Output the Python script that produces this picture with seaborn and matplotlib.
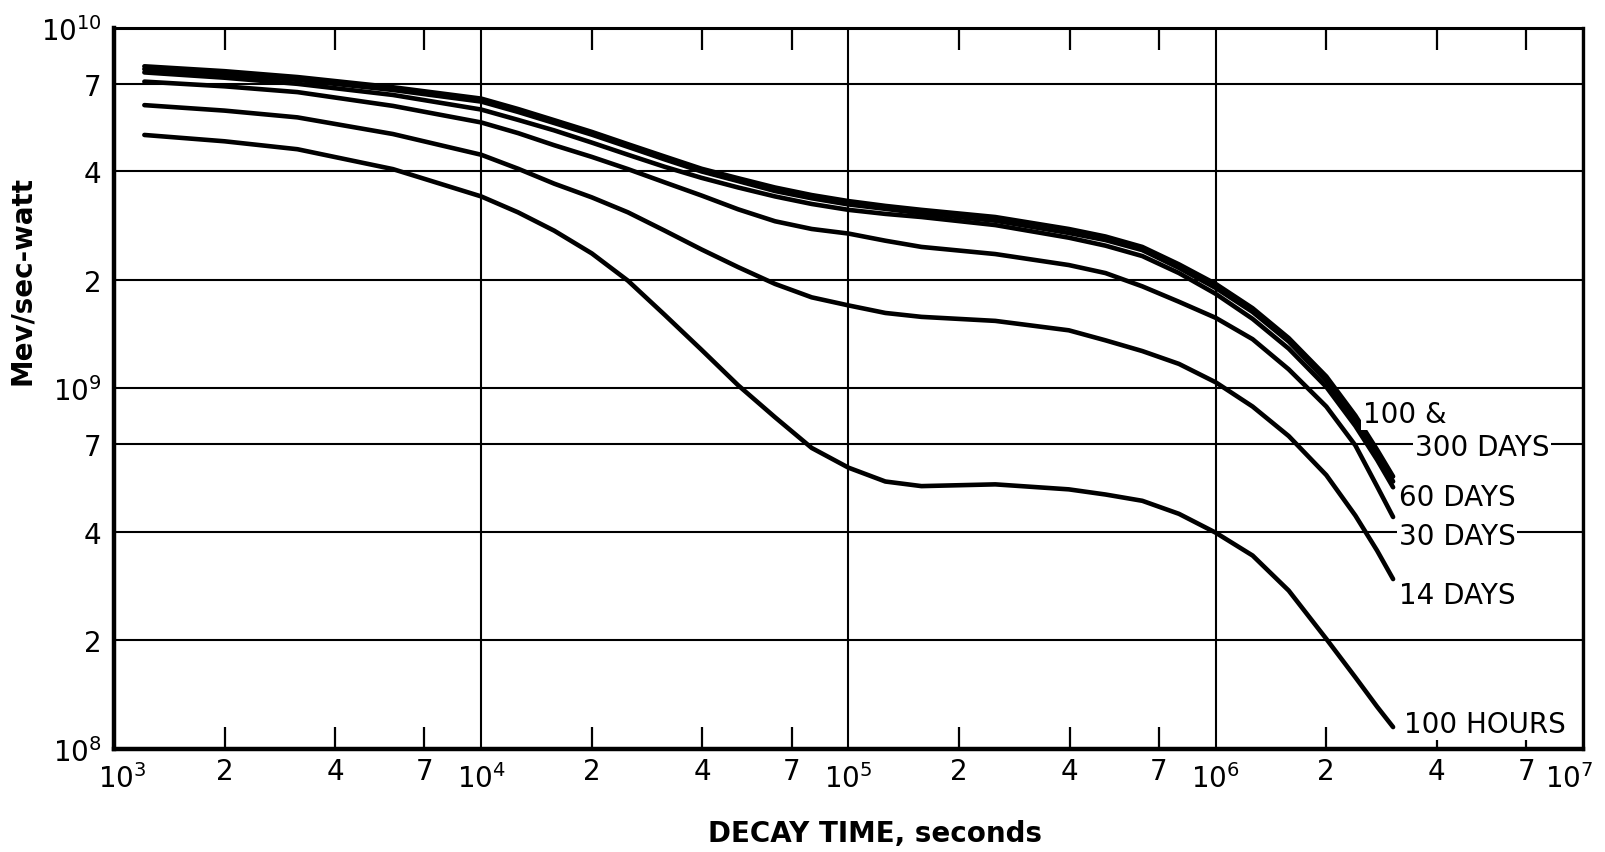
import numpy as np
import pandas as pd
import seaborn as sns
import matplotlib
matplotlib.use("Agg")
import matplotlib.pyplot as plt
from matplotlib.ticker import FixedLocator, FixedFormatter, NullLocator, NullFormatter

# ---------------- data ----------------
time_s = [1.21e3, 2.0e3, 3.16e3, 5.75e3, 1.0e4, 1.26e4, 1.58e4, 2.0e4, 2.51e4, 3.16e4,
          3.98e4, 5.01e4, 6.31e4, 7.94e4, 1.0e5, 1.26e5, 1.58e5, 2.51e5, 3.98e5, 5.01e5,
          6.31e5, 7.94e5, 1.0e6, 1.26e6, 1.58e6, 2.0e6, 2.40e6, 2.75e6, 3.04e6]

# values in units of 1e9 Mev/sec-watt
days_300 = [7.83, 7.59, 7.31, 6.85, 6.37, 5.96, 5.55, 5.15, 4.76, 4.40,
            4.07, 3.83, 3.61, 3.44, 3.31, 3.21, 3.13, 2.99, 2.77, 2.64,
            2.47, 2.21, 1.95, 1.67, 1.38, 1.08, 0.841, 0.676, 0.570]
days_100 = [7.69, 7.45, 7.18, 6.73, 6.25, 5.85, 5.45, 5.06, 4.68, 4.32,
            4.00, 3.76, 3.53, 3.37, 3.24, 3.15, 3.06, 2.92, 2.70, 2.58,
            2.42, 2.16, 1.90, 1.63, 1.35, 1.05, 0.817, 0.656, 0.552]
days_60 = [7.53, 7.28, 7.00, 6.52, 5.94, 5.56, 5.20, 4.81, 4.45, 4.12,
           3.84, 3.61, 3.41, 3.25, 3.13, 3.05, 2.99, 2.84, 2.62, 2.49,
           2.33, 2.09, 1.83, 1.56, 1.29, 1.01, 0.787, 0.634, 0.532]
days_30 = [7.10, 6.89, 6.64, 6.08, 5.47, 5.11, 4.73, 4.39, 4.06, 3.73,
           3.43, 3.14, 2.91, 2.77, 2.69, 2.57, 2.47, 2.36, 2.20, 2.09,
           1.92, 1.74, 1.57, 1.37, 1.13, 0.891, 0.695, 0.535, 0.440]
days_14 = [6.11, 5.90, 5.65, 5.08, 4.45, 4.07, 3.70, 3.39, 3.08, 2.74,
           2.43, 2.17, 1.95, 1.79, 1.70, 1.62, 1.58, 1.54, 1.45, 1.36,
           1.27, 1.17, 1.04, 0.891, 0.738, 0.575, 0.444, 0.355, 0.296]
hours_100 = [5.05, 4.85, 4.61, 4.06, 3.41, 3.08, 2.74, 2.37, 1.99, 1.60,
             1.28, 1.02, 0.832, 0.684, 0.603, 0.552, 0.536, 0.542, 0.525, 0.508,
             0.488, 0.449, 0.398, 0.344, 0.275, 0.202, 0.158, 0.131, 0.115]

series_names = ["300 days", "100 days", "60 days", "30 days", "14 days", "100 hours"]
series_values = [days_300, days_100, days_60, days_30, days_14, hours_100]

x_decades = [1e3, 1e4, 1e5, 1e6, 1e7]
x_decade_labels = ["$10^{3}$", "$10^{4}$", "$10^{5}$", "$10^{6}$", "$10^{7}$"]
x_minor = [2e3, 4e3, 7e3, 2e4, 4e4, 7e4, 2e5, 4e5, 7e5, 2e6, 4e6, 7e6]
x_minor_labels = ["2", "4", "7"] * 4

y_ticks = [1e8, 2e8, 4e8, 7e8, 1e9, 2e9, 4e9, 7e9, 1e10]
y_tick_labels = ["$10^{8}$", "2", "4", "7", "$10^{9}$", "2", "4", "7", "$10^{10}$"]

curve_labels = ["100 &", "300 DAYS", "60 DAYS", "30 DAYS", "14 DAYS", "100 HOURS"]
curve_label_x = [2.51e6, 3.48e6, 3.15e6, 3.15e6, 3.15e6, 3.25e6]
curve_label_y = [8.5e8, 6.9e8, 5.0e8, 3.9e8, 2.67e8, 1.17e8]

# ---------------- build table ----------------
rows = []
for name, vals in zip(series_names, series_values):
    for t, v in zip(time_s, vals):
        rows.append({"time": t, "value": v * 1e9, "series": name})
df = pd.DataFrame(rows)

# ---------------- plot ----------------
sns.set_style("white")
plt.rcParams["font.family"] = ["DejaVu Sans"]
plt.rcParams["mathtext.fontset"] = "dejavusans"
for key in ["text.color", "axes.labelcolor", "xtick.color", "ytick.color"]:
    plt.rcParams[key] = "black"

fig = plt.figure(figsize=(16.05, 8.53), dpi=100)
ax = fig.add_axes([0.0710, 0.1208, 0.9153, 0.8452])

sns.lineplot(data=df, x="time", y="value", hue="series", hue_order=series_names,
             palette=["black"] * len(series_names), legend=False, linewidth=3.3,
             estimator=None, sort=False, ax=ax, zorder=3,
             solid_capstyle="round", solid_joinstyle="round")

ax.set_xscale("log")
ax.set_yscale("log")
ax.set_xlim(1e3, 1e7)
ax.set_ylim(1e8, 1e10)

# x axis: decades carry grid lines, 2/4/7 carry inward ticks
ax.xaxis.set_major_locator(FixedLocator(x_decades))
ax.xaxis.set_major_formatter(NullFormatter())
ax.xaxis.set_minor_locator(FixedLocator(x_minor))
ax.xaxis.set_minor_formatter(FixedFormatter(x_minor_labels))
ax.tick_params(axis="x", which="major", length=0)
ax.tick_params(axis="x", which="minor", direction="in", length=16, width=1.6,
               top=True, bottom=True, labelsize=20, pad=6, color="black",
               labelcolor="black")

for xv, lab, dx in zip(x_decades, x_decade_labels, [6, 0, 0, 0, -10]):
    ax.annotate(lab, xy=(xv, 0), xycoords=("data", "axes fraction"),
                xytext=(dx, -10), textcoords="offset points",
                ha="center", va="top", fontsize=20, color="black")

# y axis
ax.yaxis.set_major_locator(FixedLocator(y_ticks))
ax.yaxis.set_major_formatter(FixedFormatter(y_tick_labels))
ax.yaxis.set_minor_locator(NullLocator())
ax.tick_params(axis="y", which="major", length=0, labelsize=20, pad=9,
               labelcolor="black")

ax.grid(True, which="major", axis="both", color="black", linewidth=1.5, zorder=1)
ax.set_axisbelow(True)

for side, lw in {"left": 3.2, "bottom": 3.2, "top": 2.2, "right": 2.4}.items():
    ax.spines[side].set_visible(True)
    ax.spines[side].set_color("black")
    ax.spines[side].set_linewidth(lw)

ax.set_xlabel("")
ax.set_ylabel("")

for lab, xv, yv in zip(curve_labels, curve_label_x, curve_label_y):
    ax.text(xv, yv, lab, ha="left", va="center", fontsize=20, color="black",
            zorder=5, bbox=dict(facecolor="white", edgecolor="none", pad=1.5))

fig.text(875 / 1605, 1 - 834 / 853, "DECAY TIME, seconds", ha="center", va="center",
         fontsize=20, fontweight="bold", color="black")
fig.text(22 / 1605, 1 - 281 / 853, "Mev/sec-watt", ha="center", va="center",
         rotation=90, fontsize=20, fontweight="bold", color="black")

fig.savefig("out.png", dpi=100, facecolor="white")
